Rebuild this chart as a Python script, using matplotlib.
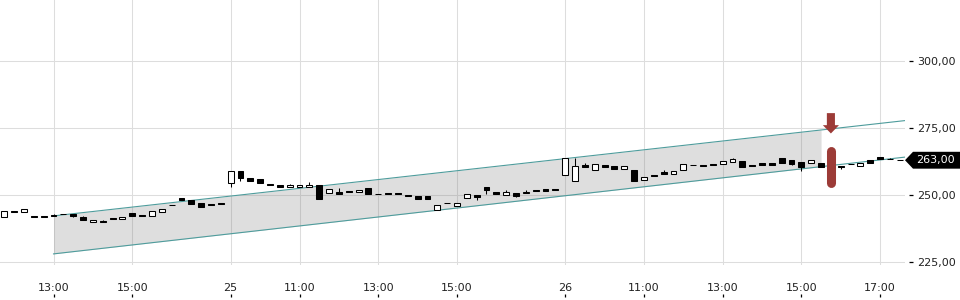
import matplotlib
matplotlib.use('Agg')
import matplotlib.pyplot as plt
import matplotlib.transforms as mtransforms
from matplotlib.patches import Polygon

# ---- data (15-minute candles) ----
opens = [241.9, 244.2, 243.5, 242.1, 242.0, 242.7, 243.0, 242.9, 241.9, 239.8,
         240.3, 241.5, 240.9, 243.4, 242.3, 242.1, 243.5, 246.4, 248.9, 248.0,
         247.1, 246.5, 247.0,
         254.4, 259.0, 256.2, 255.9, 254.1, 253.7, 253.0, 253.0, 253.0, 253.7,
         250.6, 251.1, 251.5, 251.0, 252.5, 250.4, 250.6, 250.6, 250.0, 249.6,
         249.6, 244.3, 247.1, 246.0, 248.8, 249.9, 253.0, 251.1, 249.9, 250.7,
         250.9, 252.0, 252.2, 252.2,
         257.3, 255.1, 261.1, 259.3, 261.2, 260.8, 259.9, 259.3, 255.5, 257.6,
         258.6, 257.9, 259.2, 261.3, 261.3, 261.7, 261.6, 262.4, 262.7, 261.2,
         261.9, 261.8, 263.7, 262.9, 262.4, 262.1, 261.8, 260.5, 260.8, 261.7,
         260.8, 263.1, 264.1, 263.5, 263.2]
closes = [244.0, 243.8, 244.6, 241.6, 241.6, 242.1, 242.8, 242.3, 240.5, 240.7,
          239.8, 241.2, 241.9, 242.3, 242.1, 244.1, 244.6, 246.1, 248.3, 246.8,
          245.7, 246.3, 246.7,
          259.0, 256.2, 255.4, 254.6, 253.8, 253.1, 253.8, 253.8, 253.8, 248.5,
          252.1, 250.3, 251.2, 251.9, 250.3, 250.2, 250.3, 250.3, 249.7, 248.4,
          248.4, 246.3, 246.9, 246.9, 250.3, 249.1, 251.9, 250.5, 251.2, 249.8,
          251.3, 251.4, 251.5, 252.0,
          263.8, 260.8, 260.3, 261.5, 260.6, 259.6, 260.8, 255.1, 256.6, 257.0,
          258.0, 258.8, 261.5, 261.1, 260.9, 261.1, 262.7, 263.4, 260.4, 260.7,
          261.1, 261.1, 261.8, 261.6, 260.3, 262.9, 260.3, 260.7, 260.6, 261.5,
          262.1, 261.8, 263.5, 263.3, 263.0]
highs = [244.0, 244.2, 244.6, 242.1, 242.0, 243.0, 243.0, 242.9, 242.3, 240.7,
         240.7, 241.5, 241.9, 243.4, 242.3, 244.1, 244.6, 246.4, 248.9, 248.0,
         247.1, 246.5, 247.0,
         259.0, 259.0, 256.2, 255.9, 254.1, 253.7, 254.1, 253.8, 254.9, 253.7,
         252.1, 252.5, 251.5, 251.9, 252.5, 250.4, 250.6, 250.6, 250.0, 249.8,
         249.6, 246.3, 247.1, 246.9, 250.3, 249.9, 253.0, 251.1, 251.9, 250.7,
         252.0, 252.0, 252.2, 252.2,
         263.8, 263.8, 261.8, 261.5, 261.2, 260.8, 260.8, 259.3, 256.6, 257.6,
         259.3, 258.8, 261.5, 261.3, 261.3, 261.7, 262.7, 263.7, 262.7, 261.2,
         261.9, 261.8, 263.7, 262.9, 262.4, 262.9, 261.8, 261.2, 260.8, 261.7,
         262.1, 263.1, 264.1, 263.9, 263.2]
lows = [241.9, 243.8, 243.5, 241.6, 241.6, 242.1, 242.8, 241.8, 240.5, 239.8,
        239.8, 241.2, 240.9, 242.3, 242.1, 242.1, 243.5, 246.1, 248.3, 246.8,
        245.7, 246.3, 246.7,
        253.1, 255.3, 255.4, 254.6, 253.8, 253.1, 253.0, 253.0, 253.0, 248.5,
        250.6, 250.3, 251.2, 251.0, 250.3, 250.2, 250.3, 250.3, 249.7, 248.4,
        248.4, 244.3, 246.9, 246.0, 248.8, 248.1, 250.3, 250.5, 249.9, 249.4,
        250.9, 251.4, 251.5, 252.0,
        257.3, 255.1, 260.3, 259.3, 260.6, 259.6, 259.9, 255.1, 255.5, 257.0,
        258.0, 257.9, 259.2, 261.1, 260.9, 261.1, 261.6, 262.4, 260.4, 260.7,
        261.1, 261.1, 261.8, 261.2, 259.1, 262.1, 260.3, 259.9, 259.9, 261.5,
        260.8, 261.8, 263.5, 263.3, 263.0]

tick_positions = [5, 13, 23, 30, 38, 46, 57, 65, 73, 81, 89]
tick_labels = ["13:00", "15:00", "25", "11:00", "13:00", "15:00",
               "26", "11:00", "13:00", "15:00", "17:00"]
y_ticks = [225, 250, 275, 300]
y_tick_labels = ["225,00", "250,00", "275,00", "300,00"]

channel_x = [5, 83]
channel_upper = [242.2, 274.3]
channel_lower = [228.0, 260.6]

last_price = 263.00
last_price_label = "263,00"

signal_index = 84
signal_arrow_top = 280.6
signal_arrow_neck = 276.1
signal_arrow_tip = 273.0
signal_bar_top = 268.3
signal_bar_bottom = 252.9

# ---- figure ----
W, H = 960, 300
fig = plt.figure(figsize=(W / 100, H / 100), dpi=100)
ax_left, ax_right, ax_top, ax_bottom = 0, 905, 0, 265
ax = fig.add_axes([ax_left / W, 1 - ax_bottom / H,
                   (ax_right - ax_left) / W, (ax_bottom - ax_top) / H])
xmin, xmax = -0.44, 91.53
ax.set_xlim(xmin, xmax)
ax.set_ylim(223.85, 322.87)

for s in ax.spines.values():
    s.set_visible(False)

ax.set_xticks(tick_positions)
ax.set_xticklabels(tick_labels)
ax.set_yticks(y_ticks)
ax.tick_params(axis='x', length=0, pad=13, labelsize=8, labelcolor='#222222')
ax.tick_params(axis='y', left=False, labelleft=False)
ax.grid(True, color='#dddddd', linewidth=0.75, zorder=0)
ax.set_axisbelow(True)

# channel
slope_u = (channel_upper[1] - channel_upper[0]) / (channel_x[1] - channel_x[0])
slope_l = (channel_lower[1] - channel_lower[0]) / (channel_x[1] - channel_x[0])
ax.fill_between(channel_x, channel_lower, channel_upper,
                color='#808080', alpha=0.26, linewidth=0, zorder=1)
ext_x = [channel_x[0], xmax + 1]
ax.plot(ext_x, [channel_upper[0], channel_upper[0] + slope_u * (ext_x[1] - channel_x[0])],
        color='#4e9c9c', linewidth=0.8, zorder=2)
ax.plot(ext_x, [channel_lower[0], channel_lower[0] + slope_l * (ext_x[1] - channel_x[0])],
        color='#4e9c9c', linewidth=0.8, zorder=2)

# candles
xs = list(range(len(opens)))
ax.vlines(xs, lows, highs, color='black', linewidth=0.75, zorder=3)
bottoms = [min(o, c) for o, c in zip(opens, closes)]
heights = [max(abs(c - o), 0.25) for o, c in zip(opens, closes)]
colors = ['white' if c > o else 'black' for o, c in zip(opens, closes)]
ax.bar(xs, heights, bottom=bottoms, width=0.6, color=colors,
       edgecolor='black', linewidth=0.75, zorder=4)

# signal markers
red = '#9c3b37'
hw, hh = 0.41, 0.82
arrow = Polygon([(signal_index - hw, signal_arrow_top), (signal_index + hw, signal_arrow_top),
                 (signal_index + hw, signal_arrow_neck), (signal_index + hh, signal_arrow_neck),
                 (signal_index, signal_arrow_tip), (signal_index - hh, signal_arrow_neck),
                 (signal_index - hw, signal_arrow_neck)],
                closed=True, facecolor=red, edgecolor='none', zorder=6)
ax.add_patch(arrow)
cap = 1.7
ax.plot([signal_index, signal_index], [signal_bar_top - cap, signal_bar_bottom + cap],
        color=red, linewidth=6.5, solid_capstyle='round', zorder=6)

# secondary axes for tick marks / labels
secy = ax.secondary_yaxis(1 + 4 / (ax_right - ax_left))
secy.set_yticks(y_ticks)
secy.set_yticklabels(y_tick_labels)
secy.tick_params(axis='y', length=3, width=0.9, color='black', pad=3,
                 labelsize=8, labelcolor='#222222')
for s in secy.spines.values():
    s.set_visible(False)

secx = ax.secondary_xaxis(-29 / (ax_bottom - ax_top))
secx.set_xticks(tick_positions)
secx.tick_params(axis='x', length=2.3, width=0.9, color='black', labelbottom=False)
for s in secx.spines.values():
    s.set_visible(False)

# last price tag
tr = mtransforms.blended_transform_factory(fig.transFigure, ax.transData)
half = 3.15
tag = Polygon([(905 / W, last_price), (913 / W, last_price + half), (1.0, last_price + half),
               (1.0, last_price - half), (913 / W, last_price - half)],
              closed=True, facecolor='black', edgecolor='none', transform=tr, clip_on=False,
              zorder=10)
fig.patches.append(tag) if False else ax.add_artist(tag)
ax.text(916 / W, last_price, last_price_label, transform=tr, color='white',
        fontsize=8, va='center', ha='left', clip_on=False, zorder=11)

fig.savefig('out.png', dpi=100)
